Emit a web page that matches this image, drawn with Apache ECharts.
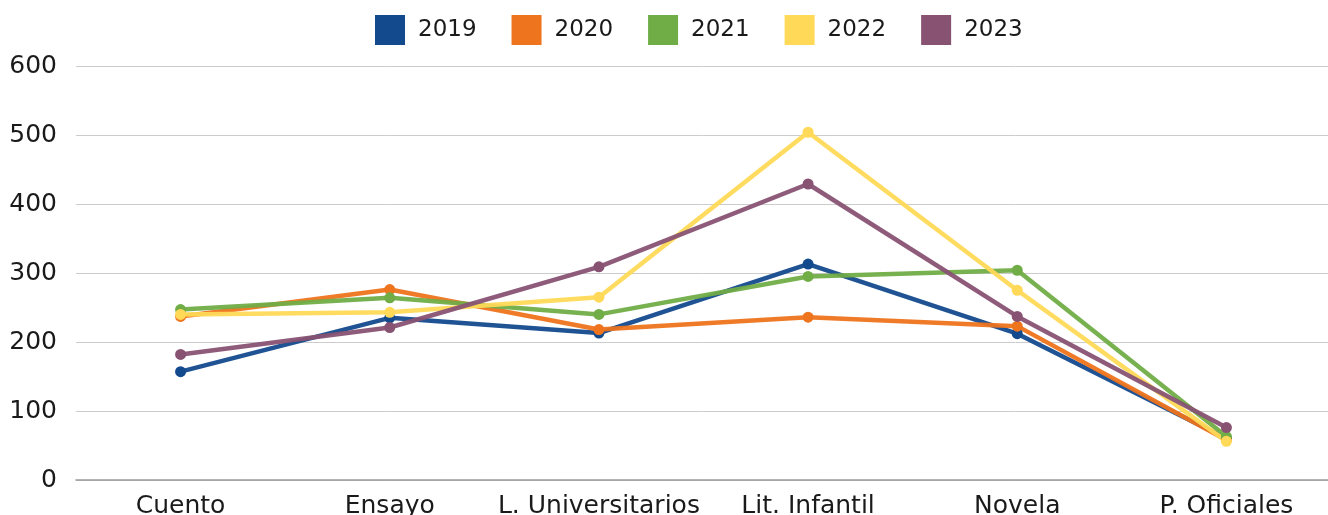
<!DOCTYPE html>
<html>
<head>
	<meta charset="utf-8">
	<title>Libros por género</title>
	<script src="https://cdn.jsdelivr.net/npm/echarts@6/dist/echarts.min.js"></script>
	<style>
		html, body { margin: 0; padding: 0; background: #fff; }
		#chart { width: 1328px; height: 515px; }
	</style>
</head>
<body>
<div id="chart"></div>
<script>
	// categorías y valores
	var categories = ['Cuento', 'Ensayo', 'L. Universitarios', 'Lit. Infantil', 'Novela', 'P. Oficiales'];
	var years = ['2019', '2020', '2021', '2022', '2023'];
	var v2019 = [157, 235, 213, 313, 212, 60];
	var v2020 = [237, 276, 218, 236, 223, 58];
	var v2021 = [247, 264, 240, 295, 304, 63];
	var v2022 = [240, 243, 265, 504, 275, 56];
	var v2023 = [182, 221, 309, 429, 237, 76];
	var yTicks = [0, 100, 200, 300, 400, 500, 600];

	var colors = ['#134a8e', '#ee741d', '#71ad47', '#ffd957', '#885373'];
	var values = [v2019, v2020, v2021, v2022, v2023];

	var font = '"DejaVu Sans", sans-serif';

	var series = [];
	for (var i = 0; i < years.length; i++) {
		series.push({
			name: years[i],
			type: 'line',
			data: values[i],
			symbol: 'circle',
			symbolSize: 11,
			lineStyle: { width: 4.5, opacity: 0.95 },
			itemStyle: { color: colors[i] },
			animation: false
		});
	}

	var chart = echarts.init(document.getElementById('chart'));
	chart.setOption({
		color: colors,
		legend: {
			data: years,
			top: 10,
			left: 370,
			icon: 'rect',
			itemWidth: 30,
			itemHeight: 30,
			itemGap: 35,
			textStyle: { fontFamily: font, fontSize: 23, color: '#1a1a1a', padding: [0, 0, 0, 8] }
		},
		grid: { left: 76, right: -3, top: 66, bottom: 35, outerBoundsMode: 'none' },
		xAxis: {
			type: 'category',
			data: categories,
			boundaryGap: true,
			axisLine: { lineStyle: { color: '#9a9a9a', width: 1.5 } },
			axisTick: { show: false },
			axisLabel: { fontFamily: font, fontSize: 25, color: '#1a1a1a', margin: 14, interval: 0 }
		},
		yAxis: {
			type: 'value',
			min: yTicks[0],
			max: yTicks[yTicks.length - 1],
			interval: 100,
			axisLine: { show: false },
			axisTick: { show: false },
			splitLine: { lineStyle: { color: '#cccccc', width: 1 } },
			axisLabel: { fontFamily: font, fontSize: 25, color: '#1a1a1a', margin: 19, padding: [5, 0, 0, 0] }
		},
		series: series
	});
</script>
</body>
</html>
